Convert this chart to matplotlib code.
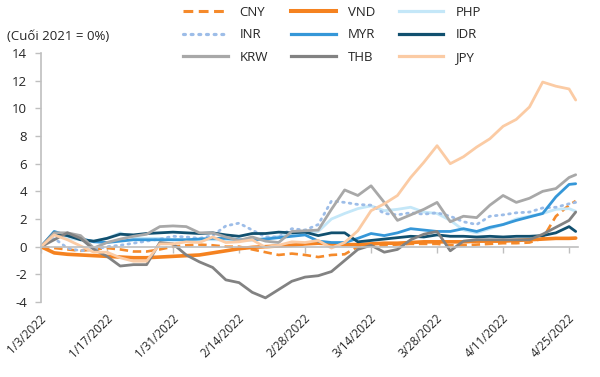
import numpy as np
import pandas as pd
import matplotlib
matplotlib.use("Agg")
import matplotlib.pyplot as plt
from matplotlib.lines import Line2D
import matplotlib.transforms as mtransforms

plt.rcParams['font.family'] = ['Open Sans', 'DejaVu Sans']

# ---- data (values read every second business day, plus the last day) ----
all_days = pd.bdate_range('2022-01-03', '2022-04-26')
obs_days = all_days[0:81:2].append(all_days[[81]])
tick_days = all_days[0:81:10]

CNY = [0, -0.1, -0.2, -0.3, -0.2, -0.1, -0.2, -0.35, -0.35, -0.2, 0, 0.1, 0.15, 0.1, 0, 0,
       -0.2, -0.4, -0.6, -0.5, -0.6, -0.75, -0.6, -0.55, 0, 0.1, 0.1, 0.15, 0.2, 0.2, 0.2,
       0.1, 0.1, 0.15, 0.2, 0.25, 0.25, 0.3, 0.6, 2.2, 3.0, 3.3]
VND = [0, -0.45, -0.55, -0.6, -0.65, -0.7, -0.75, -0.8, -0.8, -0.75, -0.7, -0.65, -0.6,
       -0.45, -0.3, -0.15, -0.05, 0, 0.05, 0.1, 0.2, 0.25, 0.2, 0.15, 0.15, 0.2, 0.25, 0.25,
       0.3, 0.35, 0.35, 0.35, 0.35, 0.4, 0.4, 0.4, 0.45, 0.5, 0.55, 0.6, 0.6, 0.62]
PHP = [0, 0.9, 0.6, 0.5, 0.4, 0.6, 1.0, 0.6, 0.6, 0.6, 0.5, 0.5, 0.55, 0.5, 0.5, 0.45, 0.5,
       0.6, 0.75, 0.9, 1.0, 1.1, 2.0, 2.4, 2.75, 2.95, 2.6, 2.7, 2.85, 2.5, 2.4, 1.9, 1.2,
       1.0, 1.3, 1.6, 2.0, 2.2, 2.4, 2.7, 2.75, 2.56]
INR = [0, 0.6, -0.1, -0.3, -0.2, 0, 0.1, 0.25, 0.4, 0.55, 0.75, 0.7, 0.6, 0.8, 1.5, 1.7,
       1.2, 0.7, 0.7, 1.3, 1.2, 1.6, 3.3, 3.2, 3.05, 3.0, 2.4, 2.3, 2.45, 2.35, 2.45, 2.2,
       1.8, 1.6, 2.2, 2.3, 2.45, 2.5, 2.8, 2.85, 3.1, 3.2]
MYR = [0, 1.1, 0.8, 0.6, 0.35, 0.3, 0.4, 0.5, 0.5, 0.5, 0.5, 0.5, 0.55, 0.6, 0.6, 0.5, 0.5,
       0.55, 0.65, 0.75, 0.85, 0.4, 0.3, 0.3, 0.6, 0.95, 0.8, 1.0, 1.3, 1.2, 1.1, 1.1, 1.3,
       1.1, 1.4, 1.6, 1.9, 2.15, 2.4, 3.6, 4.5, 4.55]
IDR = [0, 1.0, 0.8, 0.5, 0.4, 0.6, 0.9, 0.85, 0.95, 1.0, 1.05, 1.0, 0.95, 1.0, 0.85, 0.75,
       0.95, 0.95, 1.05, 1.0, 1.05, 0.8, 1.0, 1.0, 0.35, 0.45, 0.55, 0.65, 0.75, 0.7, 0.85,
       0.75, 0.75, 0.7, 0.75, 0.7, 0.75, 0.75, 0.8, 1.0, 1.45, 1.1]
KRW = [0, 1.0, 1.0, 0.8, -0.1, 0.3, 0.55, 0.75, 0.9, 1.45, 1.5, 1.45, 1.0, 1.0, 0.7, 0.45,
       0.7, 0.4, 0.3, 1.1, 1.15, 1.2, 2.7, 4.1, 3.7, 4.4, 3.2, 1.9, 2.3, 2.7, 3.2, 1.8, 2.2,
       2.1, 3.0, 3.7, 3.2, 3.5, 4.0, 4.2, 5.0, 5.2]
THB = [0, 0.5, 1.0, 0.6, -0.2, -0.7, -1.4, -1.3, -1.3, 0.3, 0.2, -0.6, -1.1, -1.5, -2.4,
       -2.6, -3.3, -3.7, -3.1, -2.5, -2.2, -2.1, -1.8, -1.0, -0.2, 0.1, -0.4, -0.2, 0.5, 0.9,
       1.1, -0.3, 0.4, 0.5, 0.5, 0.5, 0.5, 0.5, 0.9, 1.4, 1.9, 2.5]
JPY = [0, 0.85, 0.5, 0.05, -0.4, -0.4, -0.8, -1.05, -1.05, 0.2, 0.2, 0.35, 0.3, 0.7, 0.3,
       0.35, 0.5, -0.05, 0.1, 0.35, 0.3, 0.45, -0.1, 0.3, 1.15, 2.6, 3.1, 3.7, 5.0, 6.1, 7.3,
       6.0, 6.5, 7.2, 7.8, 8.7, 9.2, 10.1, 11.9, 11.6, 11.4, 10.6]

# ---- styles ----
styles = {
    'CNY': dict(color='#F58A2B', lw=1.9, ls=(0, (3.2, 1.8))),
    'VND': dict(color='#F58220', lw=2.6, ls='-'),
    'PHP': dict(color='#C4E7F8', lw=2.0, ls='-'),
    'INR': dict(color='#9DBDE8', lw=2.0, ls=(0, (0.6, 1.8))),
    'MYR': dict(color='#3597D8', lw=2.0, ls='-'),
    'IDR': dict(color='#11506F', lw=2.0, ls='-'),
    'KRW': dict(color='#A8A8A8', lw=2.0, ls='-'),
    'THB': dict(color='#828282', lw=2.0, ls='-'),
    'JPY': dict(color='#FBCBA4', lw=2.0, ls='-'),
}
series = {'CNY': CNY, 'VND': VND, 'PHP': PHP, 'INR': INR, 'MYR': MYR,
          'IDR': IDR, 'KRW': KRW, 'THB': THB, 'JPY': JPY}

x = all_days.get_indexer(obs_days)

fig = plt.figure(figsize=(6.0, 3.77), dpi=100)
ax = fig.add_axes([41/600, 1 - 302/377, 537/600, 249/377])

for name, vals in series.items():
    st = styles[name]
    ax.plot(x, vals, color=st['color'], lw=st['lw'], ls=st['ls'],
            solid_capstyle='round',
            dash_capstyle='round' if name == 'INR' else 'butt', label=name)

ax.set_xlim(0, 81.35)
ax.set_ylim(-4, 14)
ax.set_yticks(np.arange(-4, 15, 2))
ax.set_yticklabels([str(v) for v in np.arange(-4, 15, 2)])

txt_color = '#262626'
axis_color = '#BFBFBF'
for s in ['top', 'right']:
    ax.spines[s].set_visible(False)
ax.spines['left'].set_color(axis_color)
ax.spines['left'].set_linewidth(1.2)
ax.spines['bottom'].set_position(('data', 0))
ax.spines['bottom'].set_color(axis_color)
ax.spines['bottom'].set_linewidth(1.2)

ax.tick_params(axis='y', direction='out', length=4, width=1, color=axis_color,
               labelsize=9.5, labelcolor=txt_color, pad=6)
tick_pos = all_days.get_indexer(tick_days)
ax.set_xticks(tick_pos)
ax.tick_params(axis='x', direction='out', length=4, width=1, color=axis_color,
               labelbottom=False)

# rotated date labels below the plot
trans = mtransforms.blended_transform_factory(ax.transData, ax.transAxes)
off = mtransforms.ScaledTranslation(8/100, -10/100, fig.dpi_scale_trans)
for p, d in zip(tick_pos, tick_days):
    ax.text(p, 0, f"{d.month}/{d.day}/{d.year}", transform=trans + off,
            rotation=45, ha='right', va='top', fontsize=8.4, color=txt_color)

fig.text(7/600, 1 - 36/377, '(Cuối 2021 = 0%)', fontsize=9.5, color=txt_color,
         va='center', ha='left')

order = ['CNY', 'INR', 'KRW', 'VND', 'MYR', 'THB', 'PHP', 'IDR', 'JPY']
handles = []
for n in order:
    st = styles[n]
    handles.append(Line2D([], [], color=st['color'], lw=st['lw'] + 0.3, ls=st['ls'],
                          dash_capstyle='round' if n == 'INR' else 'butt'))
leg = fig.legend(handles, order, ncol=3, loc='upper left',
                 bbox_to_anchor=(183/600, 1 - 6/377), frameon=False,
                 fontsize=9.5, handlelength=3.4, handletextpad=0.9,
                 columnspacing=1.75, labelspacing=0.72, borderpad=0, borderaxespad=0)
for t in leg.get_texts():
    t.set_color(txt_color)

fig.savefig('out.png', dpi=100)
